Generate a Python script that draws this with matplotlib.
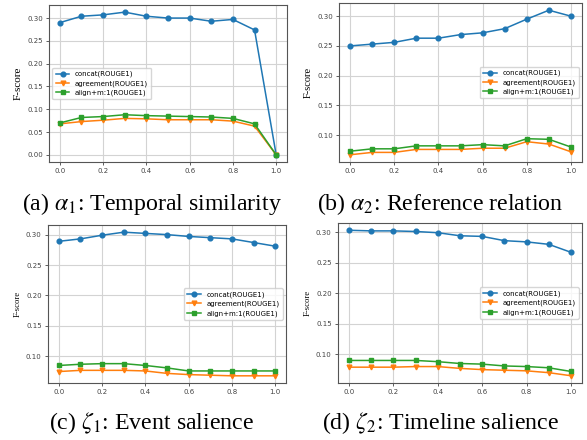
import matplotlib
matplotlib.use("Agg")
import matplotlib.pyplot as plt

plt.rcParams['mathtext.fontset'] = 'stix'

x = [0.0, 0.1, 0.2, 0.3, 0.4, 0.5, 0.6, 0.7, 0.8, 0.9, 1.0]
xticks = [0.0, 0.2, 0.4, 0.6, 0.8, 1.0]
series_names = ["concat(ROUGE1)", "agreement(ROUGE1)", "align+m:1(ROUGE1)"]

a_concat = [0.290, 0.304, 0.307, 0.313, 0.304, 0.300, 0.300, 0.293, 0.297, 0.274, 0.000]
a_agree = [0.068, 0.073, 0.076, 0.080, 0.079, 0.077, 0.077, 0.077, 0.074, 0.063, 0.000]
a_align = [0.070, 0.082, 0.084, 0.088, 0.086, 0.085, 0.084, 0.083, 0.080, 0.068, 0.000]

b_concat = [0.250, 0.253, 0.256, 0.263, 0.263, 0.269, 0.272, 0.279, 0.295, 0.310, 0.300]
b_agree = [0.067, 0.071, 0.071, 0.076, 0.076, 0.076, 0.078, 0.078, 0.089, 0.085, 0.072]
b_align = [0.073, 0.077, 0.077, 0.082, 0.082, 0.082, 0.084, 0.082, 0.094, 0.093, 0.080]

c_concat = [0.289, 0.293, 0.299, 0.304, 0.302, 0.300, 0.297, 0.295, 0.293, 0.287, 0.281]
c_agree = [0.075, 0.077, 0.077, 0.077, 0.076, 0.072, 0.070, 0.069, 0.068, 0.068, 0.068]
c_align = [0.085, 0.087, 0.088, 0.088, 0.085, 0.081, 0.076, 0.076, 0.076, 0.076, 0.076]

d_concat = [0.303, 0.302, 0.302, 0.301, 0.299, 0.294, 0.293, 0.286, 0.284, 0.280, 0.267]
d_agree = [0.079, 0.079, 0.079, 0.080, 0.080, 0.077, 0.075, 0.074, 0.073, 0.070, 0.065]
d_align = [0.090, 0.090, 0.090, 0.090, 0.088, 0.085, 0.084, 0.081, 0.080, 0.078, 0.072]

captions = [r"(a) $\alpha_1$: Temporal similarity",
            r"(b) $\alpha_2$: Reference relation",
            r"(c) $\zeta_1$: Event salience",
            r"(d) $\zeta_2$: Timeline salience"]

W, H = 587, 440
fig = plt.figure(figsize=(W / 100, H / 100), dpi=100)

# pixel boxes: left, right, top, bottom
boxes = [(49, 287, 5, 162), (339, 582, 3, 162), (48, 286, 225, 383), (338, 582, 223, 383)]
cap_pos = [(152, 204), (440, 204), (152, 423), (440, 423)]
legend_locs = ["center left", "center right", "center right", "center right"]
ylabel_sizes = [8, 7.5, 6.2, 6.2]
data = [(a_concat, a_agree, a_align), (b_concat, b_agree, b_align),
        (c_concat, c_agree, c_align), (d_concat, d_agree, d_align)]

colors = ["#1f77b4", "#ff7f0e", "#2ca02c"]
markers = ["o", "v", "s"]

for i in range(4):
    l, r, t, b = boxes[i]
    ax = fig.add_axes([l / W, 1 - b / H, (r - l) / W, (b - t) / H])
    for vals, name, c, m in zip(data[i], series_names, colors, markers):
        ax.plot(x, vals, color=c, marker=m, markersize=3.4, linewidth=1.1, label=name)
    ax.set_xticks(xticks)
    ax.grid(True, color="#d3d3d3", linewidth=0.8)
    ax.set_axisbelow(True)
    ax.tick_params(labelsize=5, colors="#444444", length=2.5, width=0.6, pad=2)
    for s in ax.spines.values():
        s.set_color("#555555")
        s.set_linewidth(0.8)
    ax.yaxis.set_major_formatter(matplotlib.ticker.FormatStrFormatter("%.2f"))
    ax.xaxis.set_major_formatter(matplotlib.ticker.FormatStrFormatter("%.1f"))
    ax.set_ylabel("F-score", family="Liberation Serif", fontsize=ylabel_sizes[i], labelpad=3)
    ax.legend(loc=legend_locs[i], fontsize=5, handlelength=2.0, borderpad=0.45,
              labelspacing=0.4, framealpha=0.8, edgecolor="#cccccc", fancybox=True)
    cx, cy = cap_pos[i]
    fig.text(cx / W, 1 - cy / H, captions[i], ha="center", va="center",
             family="Liberation Serif", fontsize=17.2)

fig.savefig("out.png", dpi=100)
